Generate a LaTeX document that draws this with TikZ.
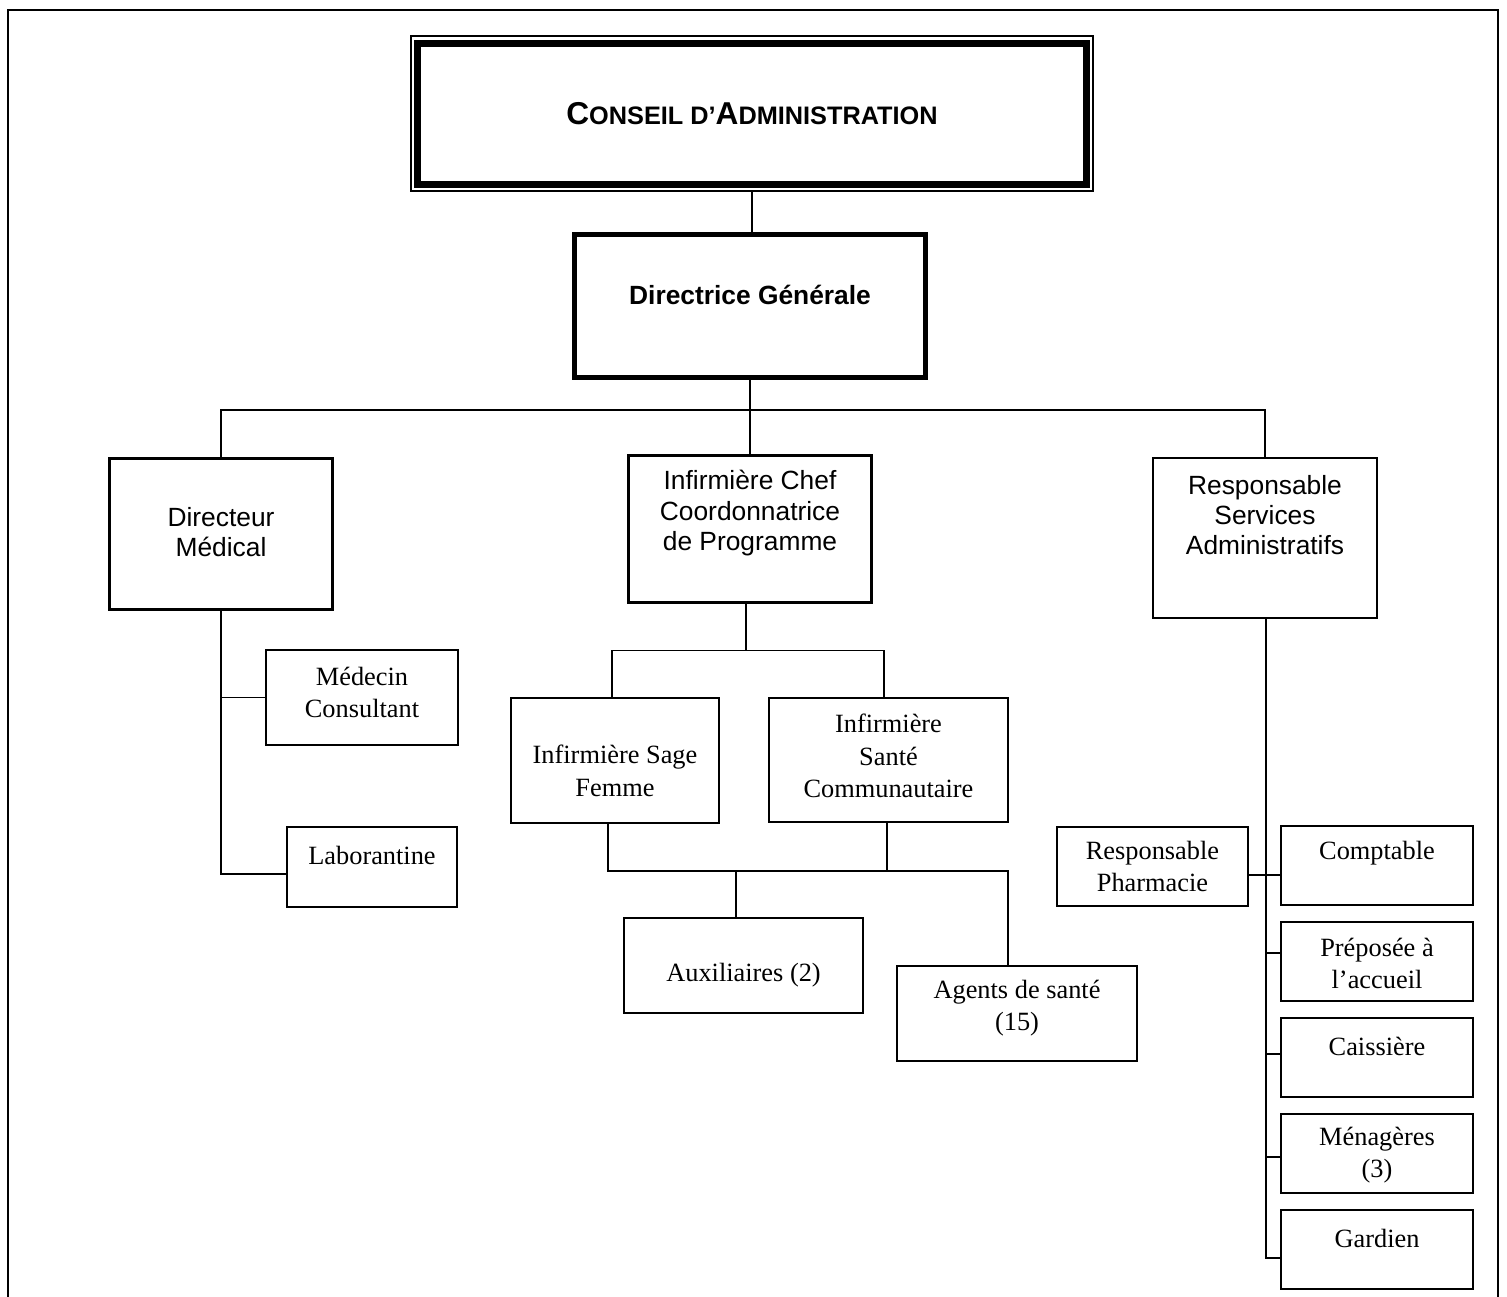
\documentclass[tikz,border=0pt]{standalone}
\usepackage{fontspec}
\setmainfont{Liberation Serif}
\setsansfont{Liberation Sans}
\usepackage{tikz}
\usetikzlibrary{calc}
\tikzstyle{unit} = [rectangle, draw, line width=1pt]
\tikzstyle{chief} = [rectangle, draw, line width=1.7pt]
\tikzstyle{serif} = [font=\fontsize{15}{18.5}\selectfont, align=center]
\tikzstyle{sans} = [font=\sffamily\fontsize{15}{17.3}\selectfont, align=center]
\tikzstyle{link} = [draw, line width=1pt]
\newcommand{\bigsc}[1]{{\fontsize{18}{20}\selectfont #1}}
\newcommand{\smallsc}[1]{{\fontsize{14.4}{17}\selectfont #1}}

\begin{document}
\begin{tikzpicture}[x=0.02cm, y=-0.02cm]
    \useasboundingbox (0,0) rectangle (1507,1297);
    % page frame
    \draw[line width=1.1pt] (8,1297) -- (8,10) -- (1498,10) -- (1498,1297);
    % Place nodes
    \node [rectangle, draw, line width=0.8pt, minimum width=13.64cm, minimum height=3.1cm,
        label={[sans]center:\textbf{\bigsc{C}\smallsc{ONSEIL D’}\bigsc{A}\smallsc{DMINISTRATION}}}] (ca) at (752,113.5) {};
    \draw [line width=4pt] ($(ca.north west)+(7.5,8)$) rectangle ($(ca.south east)+(-7,-7)$);
    \node [rectangle, draw, line width=2.8pt, minimum width=7.02cm, minimum height=2.86cm,
        label={[sans, yshift=6.2pt]center:\textbf{Directrice Générale}}] (dg) at (750,306) {};
    \node [chief, minimum width=4.48cm, minimum height=3.04cm,
        label={[sans, yshift=1pt]center:Directeur\\Médical}] (dm) at (221,534) {};
    \node [chief, minimum width=4.88cm, minimum height=2.96cm,
        label={[sans, yshift=9pt]center:Infirmière Chef\\Coordonnatrice\\de Programme}] (ic) at (750,529) {};
    \node [chief, line width=1.4pt, minimum width=4.48cm, minimum height=3.2cm,
        label={[sans, yshift=13pt]center:Responsable\\Services\\Administratifs}] (rsa) at (1265,538) {};
    % under the medical director
    \node [unit, minimum width=3.84cm, minimum height=1.9cm,
        label={[serif, yshift=3pt]center:Médecin\\Consultant}] (med) at (362,697.5) {};
    \node [unit, minimum width=3.4cm, minimum height=1.6cm,
        label={[serif, yshift=6.8pt]center:Laborantine}] (lab) at (372,867) {};
    % under the head nurse
    \node [unit, minimum width=4.16cm, minimum height=2.5cm,
        label={[serif, yshift=-6pt]center:Infirmière Sage\\Femme}] (sf) at (615,760.5) {};
    \node [unit, minimum width=4.78cm, minimum height=2.48cm,
        label={[serif, yshift=2.3pt]center:Infirmière\\Santé\\Communautaire}] (sc) at (888.5,760) {};
    \node [unit, minimum width=4.78cm, minimum height=1.9cm,
        label={[serif, yshift=-5.4pt]center:Auxiliaires (2)}] (aux) at (743.5,965.5) {};
    \node [unit, minimum width=4.8cm, minimum height=1.9cm,
        label={[serif, yshift=3pt]center:Agents de santé\\(15)}] (ag) at (1017,1013.5) {};
    % under the administrative services
    \node [unit, minimum width=3.82cm, minimum height=1.58cm,
        label={[serif]center:Responsable\\Pharmacie}] (pharm) at (1152.5,866.5) {};
    \node [unit, minimum width=3.84cm, minimum height=1.58cm,
        label={[serif, yshift=7pt]center:Comptable}] (comp) at (1377,865.5) {};
    \node [unit, minimum width=3.84cm, minimum height=1.58cm,
        label={[serif, yshift=-1pt]center:Préposée à\\l’accueil}] (prep) at (1377,961.5) {};
    \node [unit, minimum width=3.84cm, minimum height=1.58cm,
        label={[serif, yshift=6.5pt]center:Caissière}] (cais) at (1377,1057.5) {};
    \node [unit, minimum width=3.84cm, minimum height=1.58cm,
        label={[serif, yshift=-1pt]center:Ménagères\\(3)}] (men) at (1377,1153.5) {};
    \node [unit, minimum width=3.84cm, minimum height=1.58cm,
        label={[serif, yshift=6.5pt]center:Gardien}] (gard) at (1377,1249.5) {};
    % Draw edges
    \draw [link] (ca.south) -- (ca.south |- dg.north);
    \draw [link] (dg.south) -- (ic.north);
    \draw [link] (dm.north) |- ($(dg.south)+(0,30)$) -| (rsa.north);
    \draw [link] (dm.south) |- (med.west);
    \draw [link] (dm.south) |- ($(lab.west)+(0,7)$);
    \draw [link] ($(ic.south)+(-4,0)$) -- ++(0,46) coordinate (icb);
    \draw [link] ($(sf.north)+(-3,0)$) |- (icb) -| ($(sc.north)+(-4.5,0)$);
    \draw [link] ($(sf.south)+(-7,0)$) -- ++(0,47) coordinate (sfb) -| ($(ag.north)+(-9,0)$);
    \draw [link] ($(sc.south)+(-1.5,0)$) |- (sfb);
    \draw [link] ($(aux.north)+(-7.5,0)$) |- (sfb);
    \draw [link] ($(rsa.south)+(1,0)$) |- ($(gard.west)+(0,8.5)$);
    \draw [link] ($(rsa.south)+(1,0)$) |- ($(men.west)+(0,3.5)$);
    \draw [link] ($(rsa.south)+(1,0)$) |- ($(cais.west)+(0,-3.5)$);
    \draw [link] ($(rsa.south)+(1,0)$) |- ($(prep.west)+(0,-8.5)$);
    \draw [link] ($(pharm.east)+(0,8.5)$) -- ($(comp.west)+(0,9.5)$);
\end{tikzpicture}
\end{document}
